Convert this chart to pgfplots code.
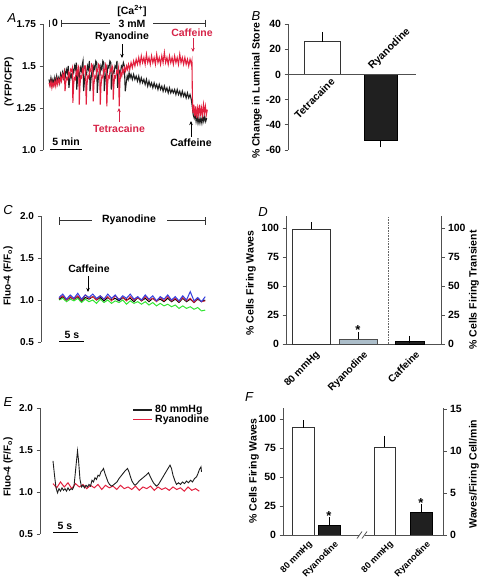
\documentclass[border=0pt]{standalone}
\usepackage{fontspec}
\setmainfont{Liberation Sans}
\usepackage{pgfplots}
\pgfplotsset{compat=1.18}
\usetikzlibrary{arrows.meta}
\definecolor{trred}{RGB}{226,32,62}
\definecolor{txred}{RGB}{214,36,72}
\definecolor{trblack}{RGB}{30,30,30}
\definecolor{cblue}{RGB}{52,62,222}
\definecolor{cgreen}{RGB}{50,228,50}
\definecolor{cred}{RGB}{214,40,62}
\definecolor{barblue}{RGB}{172,190,202}
\definecolor{bardark}{RGB}{32,32,32}
\definecolor{axcol}{RGB}{80,80,80}
\newcommand{\fa}{\bfseries\fontsize{10.5}{12}\selectfont}
\newcommand{\fb}{\bfseries\fontsize{10}{12}\selectfont}
\newcommand{\fc}{\bfseries\fontsize{9}{11}\selectfont}
\newcommand{\fp}{\itshape\fontsize{13}{14}\selectfont}
\pgfplotsset{
  panel/.style={scale only axis, clip=false,
    axis line style={axcol, line width=0.75pt},
    tick style={axcol, line width=0.75pt},
    major tick length=3.5pt,
    /pgf/number format/assume math mode=true,
    ticklabel style={font=\fb},
  },
  bars/.style={ybar, bar shift=0pt, error bars/y explicit,
    error bars/error bar style={black, line width=0.6pt},
    error bars/error mark options={black, line width=0.6pt, mark size=3.5pt}},
}
\begin{document}
\begin{tikzpicture}
\useasboundingbox (0,0) rectangle (480pt,-581pt);

%================ A
\begin{axis}[panel, at={(43pt,-150pt)}, anchor=south west, width=172pt, height=126pt,
  xmin=-0.94, xmax=25.9, ymin=1, ymax=1.75, axis x line=none, axis y line*=left, tick align=outside,
  ytick={1,1.25,1.5,1.75}, yticklabels={1.0,1.25,1.5,1.75}]
\addplot[trblack, line width=1.1pt] coordinates {
(0.0,1.42)(0.15,1.39)(0.3,1.43)(0.45,1.40)(0.6,1.42)(0.75,1.39)(0.9,1.43)(1.05,1.40)(1.2,1.44)(1.35,1.41)
(1.5,1.43)(1.65,1.40)(1.8,1.45)(1.95,1.42)(2.1,1.46)(2.25,1.43)(2.4,1.47)(2.55,1.44)(2.7,1.48)(2.85,1.46)
(3.0,1.50)(3.1,1.37)(3.25,1.42)(3.4,1.45)(3.55,1.43)(3.7,1.48)(3.85,1.46)(4.0,1.50)(4.15,1.48)(4.25,1.52)
(4.32,1.36)(4.45,1.42)(4.6,1.46)(4.75,1.44)(4.9,1.49)(5.05,1.47)(5.2,1.51)(5.3,1.53)(5.4,1.35)(5.55,1.42)
(5.7,1.46)(5.85,1.45)(6.0,1.50)(6.15,1.48)(6.3,1.53)(6.4,1.35)(6.55,1.42)(6.7,1.47)(6.85,1.45)(7.0,1.50)
(7.15,1.48)(7.3,1.53)(7.45,1.52)(7.52,1.34)(7.65,1.41)(7.8,1.46)(7.95,1.45)(8.1,1.50)(8.25,1.48)(8.4,1.53)
(8.55,1.52)(8.62,1.35)(8.75,1.42)(8.9,1.46)(9.05,1.45)(9.2,1.50)(9.35,1.49)(9.5,1.53)(9.65,1.52)(9.72,1.36)
(9.85,1.43)(10.0,1.47)(10.15,1.46)(10.3,1.50)(10.45,1.49)(10.6,1.53)(10.7,1.37)(10.85,1.43)(11.0,1.47)(11.15,1.46)
(11.3,1.50)(11.45,1.49)(11.6,1.52)(11.75,1.50)(11.9,1.35)(12.05,1.40)(12.2,1.44)(12.35,1.42)(12.5,1.46)(12.65,1.43)
(12.8,1.45)(13.0,1.42)(13.2,1.45)(13.4,1.42)(13.6,1.44)(13.8,1.41)(14.0,1.44)(14.2,1.40)(14.4,1.43)(14.6,1.40)
(14.8,1.42)(15.0,1.39)(15.2,1.42)(15.4,1.38)(15.6,1.41)(15.8,1.38)(16.0,1.40)(16.2,1.37)(16.4,1.40)(16.6,1.37)
(16.8,1.39)(17.0,1.36)(17.2,1.39)(17.4,1.36)(17.6,1.38)(17.8,1.35)(18.0,1.38)(18.2,1.35)(18.4,1.37)(18.6,1.34)
(18.8,1.37)(19.0,1.34)(19.2,1.36)(19.4,1.34)(19.6,1.36)(19.8,1.33)(20.0,1.36)(20.2,1.33)(20.4,1.35)(20.6,1.32)
(20.8,1.35)(21.0,1.32)(21.2,1.34)(21.4,1.31)(21.6,1.34)(21.8,1.31)(22.0,1.33)(22.2,1.30)(22.35,1.26)(22.5,1.21)
(22.65,1.19)(22.8,1.22)(22.95,1.17)(23.1,1.20)(23.25,1.16)(23.4,1.19)(23.55,1.16)(23.7,1.19)(23.85,1.16)(24.0,1.20)
(24.15,1.17)(24.3,1.20)(24.45,1.17)(24.6,1.19)};
\addplot[trred, line width=1.1pt] coordinates {
(0.0,1.40)(0.15,1.38)(0.3,1.41)(0.45,1.37)(0.6,1.40)(0.75,1.38)(0.9,1.41)(1.05,1.38)(1.2,1.42)(1.35,1.39)
(1.5,1.42)(1.65,1.40)(1.8,1.43)(1.95,1.41)(2.1,1.45)(2.25,1.43)(2.4,1.46)(2.5,1.35)(2.6,1.40)(2.75,1.43)
(2.9,1.42)(3.05,1.46)(3.2,1.44)(3.35,1.48)(3.5,1.47)(3.65,1.49)(3.72,1.28)(3.82,1.38)(3.95,1.43)(4.1,1.42)
(4.25,1.47)(4.4,1.45)(4.55,1.50)(4.65,1.49)(4.72,1.27)(4.82,1.38)(4.95,1.44)(5.1,1.43)(5.25,1.48)(5.4,1.46)
(5.55,1.50)(5.7,1.50)(5.8,1.27)(5.9,1.38)(6.05,1.44)(6.2,1.43)(6.35,1.48)(6.5,1.47)(6.65,1.51)(6.8,1.50)
(6.9,1.29)(7.0,1.39)(7.15,1.44)(7.3,1.43)(7.45,1.48)(7.6,1.47)(7.75,1.51)(7.9,1.50)(8.0,1.27)(8.1,1.38)
(8.25,1.44)(8.4,1.43)(8.55,1.48)(8.7,1.47)(8.85,1.51)(8.95,1.50)(9.02,1.26)(9.12,1.38)(9.25,1.44)(9.4,1.43)
(9.55,1.48)(9.7,1.47)(9.85,1.50)(9.95,1.49)(10.02,1.30)(10.12,1.39)(10.25,1.44)(10.4,1.43)(10.55,1.47)(10.7,1.46)
(10.85,1.49)(10.95,1.26)(11.05,1.40)(11.2,1.46)(11.35,1.44)(11.5,1.48)(11.65,1.46)(11.8,1.49)(11.95,1.47)(12.1,1.50)
(12.25,1.48)(12.4,1.51)(12.6,1.48)(12.8,1.52)(13.0,1.49)(13.2,1.53)(13.4,1.50)(13.6,1.54)(13.8,1.51)(14.0,1.55)
(14.2,1.51)(14.4,1.56)(14.6,1.52)(14.8,1.55)(15.0,1.51)(15.2,1.57)(15.4,1.52)(15.6,1.55)(15.8,1.51)(16.0,1.56)
(16.2,1.52)(16.4,1.55)(16.6,1.51)(16.8,1.57)(17.0,1.52)(17.2,1.55)(17.4,1.51)(17.6,1.56)(17.8,1.52)(18.0,1.58)
(18.2,1.52)(18.4,1.55)(18.6,1.51)(18.8,1.56)(19.0,1.52)(19.2,1.55)(19.4,1.51)(19.6,1.56)(19.8,1.52)(20.0,1.55)
(20.2,1.51)(20.4,1.57)(20.6,1.52)(20.8,1.55)(21.0,1.51)(21.2,1.55)(21.4,1.51)(21.6,1.54)(21.8,1.50)(22.0,1.54)
(22.2,1.51)(22.3,1.53)(22.38,1.30)(22.45,1.22)(22.6,1.27)(22.75,1.20)(22.9,1.26)(23.05,1.19)(23.2,1.25)(23.35,1.21)
(23.5,1.27)(23.65,1.20)(23.8,1.25)(23.95,1.21)(24.1,1.27)(24.25,1.22)(24.4,1.26)(24.55,1.21)(24.7,1.24)};
\end{axis}

%================ B
\begin{axis}[panel, bars, at={(288pt,-150pt)}, anchor=south west, width=128pt, height=126pt,
  xmin=0, xmax=128, ymin=-60, ymax=40, axis x line=none, axis y line*=left, tick align=outside,
  ytick={-60,-40,-20,0,20,40}, ticklabel style={font=\fa}]
\addplot[fill=white, draw=black!80, line width=0.6pt, bar width=36, error bars/y dir=plus] coordinates {(34,26) +- (0,5)};
\addplot[fill=bardark, draw=black, line width=0.6pt, bar width=33, error bars/y dir=minus] coordinates {(92.5,-52.1) +- (0,3.1)};
\draw[axcol, line width=0.75pt] (axis cs:0,0) -- (axis cs:128,0);
\node[font=\fa, rotate=45, anchor=north east, inner sep=1pt] at (axis cs:42,-1) {Tetracaine};
\node[font=\fa, rotate=45, anchor=south west, inner sep=1pt] at (axis cs:86,1) {Ryanodine};
\end{axis}

%================ C
\begin{axis}[panel, at={(41pt,-342pt)}, anchor=south west, width=174pt, height=126pt,
  xmin=-3.6, xmax=31.2, ymin=0.5, ymax=2.0, axis x line=none, axis y line*=left, tick align=outside,
  ytick={0.5,1,1.5,2}, yticklabels={0.5,1.0,1.5,2.0}]
\addplot[cgreen, line width=1pt] coordinates {
(0,1.00)(0.75,1.02)(1.5,0.98)(2.25,1.01)(3,0.99)(3.75,1.02)(4.5,0.97)(5.25,1.01)(6,0.98)(6.75,1.00)
(7.5,0.96)(8.25,1.01)(9,0.97)(9.75,1.00)(10.5,0.96)(11.25,0.99)(12,0.97)(12.75,1.00)(13.5,0.95)(14.25,0.99)
(15,0.96)(15.75,0.98)(16.5,0.95)(17.25,0.98)(18,0.94)(18.75,0.97)(19.5,0.93)(20.25,0.96)(21,0.93)(21.75,0.95)
(22.5,0.92)(23.25,0.94)(24,0.90)(24.75,0.93)(25.5,0.90)(26.25,0.92)(27,0.89)(27.75,0.91)(28.5,0.87)(29.25,0.88)};
\addplot[black, line width=1pt] coordinates {
(0,1.01)(0.75,1.04)(1.5,1.00)(2.25,1.03)(3,1.01)(3.75,1.04)(4.5,0.99)(5.25,1.03)(6,1.01)(6.75,1.04)
(7.5,1.00)(8.25,1.03)(9,0.99)(9.75,1.03)(10.5,1.00)(11.25,1.02)(12,0.99)(12.75,1.03)(13.5,1.00)(14.25,1.02)
(15,0.98)(15.75,1.03)(16.5,0.99)(17.25,1.02)(18,0.98)(18.75,1.02)(19.5,0.99)(20.25,1.01)(21,0.98)(21.75,1.02)
(22.5,0.98)(23.25,1.01)(24,0.97)(24.75,1.02)(25.5,0.98)(26.25,1.01)(27,0.97)(27.75,1.01)(28.5,0.98)(29.25,1.00)};
\addplot[cred, line width=1pt] coordinates {
(0,1.02)(0.75,1.05)(1.5,1.00)(2.25,1.04)(3,1.01)(3.75,1.05)(4.5,1.00)(5.25,1.06)(6,1.02)(6.75,1.04)
(7.5,1.00)(8.25,1.05)(9,1.01)(9.75,1.04)(10.5,0.99)(11.25,1.05)(12,1.01)(12.75,1.03)(13.5,0.99)(14.25,1.04)
(15,1.00)(15.75,1.03)(16.5,0.99)(17.25,1.04)(18,1.00)(18.75,1.02)(19.5,0.98)(20.25,1.03)(21,0.99)(21.75,1.04)
(22.5,0.99)(23.25,1.02)(24,0.98)(24.75,1.03)(25.5,0.99)(26.25,1.02)(27,0.97)(27.75,1.02)(28.5,0.98)(29.25,0.99)};
\addplot[cblue, line width=1pt] coordinates {
(0,1.03)(0.75,1.07)(1.5,1.01)(2.25,1.06)(3,1.02)(3.75,1.08)(4.5,1.01)(5.25,1.06)(6,1.03)(6.75,1.07)
(7.5,1.02)(8.25,1.05)(9,1.01)(9.75,1.07)(10.5,1.02)(11.25,1.06)(12,1.00)(12.75,1.05)(13.5,1.02)(14.25,1.07)
(15,1.01)(15.75,1.04)(16.5,1.00)(17.25,1.06)(18,1.01)(18.75,1.05)(19.5,0.99)(20.25,1.04)(21,1.01)(21.75,1.06)
(22.5,1.00)(23.25,1.04)(24,0.99)(24.75,1.05)(25.5,1.00)(26.25,1.10)(27,0.99)(27.75,1.03)(28.5,0.98)(29.25,1.04)};
\end{axis}

%================ D
\begin{axis}[panel, bars, at={(286pt,-344pt)}, anchor=south west, width=155pt, height=127.6pt,
  xmin=0, xmax=155, ymin=0, ymax=110, axis x line*=bottom, axis y line*=left, tick align=outside,
  ytick={0,25,50,75,100}, ticklabel style={font=\fa},
  xtick={29,77,129}, xticklabels={80 mmHg,Ryanodine,Caffeine}, xtick style={draw=none},
  xticklabel style={yshift=-1pt, rotate=45, anchor=north east, inner sep=1pt, font=\fb}]
\addplot[fill=white, draw=black!80, line width=0.6pt, bar width=38, error bars/y dir=plus] coordinates {(25,98.9) +- (0,3.1)};
\addplot[fill=barblue, draw=black!70, line width=0.6pt, bar width=38, error bars/y dir=plus] coordinates {(72,4.0) +- (0,3.2)};
\addplot[fill=bardark, draw=black, line width=0.6pt, bar width=29, error bars/y dir=plus] coordinates {(123.5,2.0) +- (0,2.0)};
\draw[densely dotted, black!60, line width=0.6pt] (axis cs:102,0) -- (axis cs:102,110);
\node[font=\bfseries\fontsize{13}{13}\selectfont, anchor=base] at (axis cs:72,8.5) {*};
\end{axis}
\begin{axis}[panel, at={(286pt,-344pt)}, anchor=south west, width=155pt, height=127.6pt,
  xmin=0, xmax=155, ymin=0, ymax=110, axis x line=none, axis y line*=right, tick align=outside,
  ytick={0,25,50,75,100}, ticklabel style={font=\fa}]
\end{axis}

%================ E
\begin{axis}[panel, at={(40pt,-534pt)}, anchor=south west, width=174pt, height=126pt,
  xmin=-2.6, xmax=32.2, ymin=0.5, ymax=2.0, axis x line=none, axis y line*=left, tick align=outside,
  ytick={0.5,1,1.5,2}, yticklabels={0.5,1.0,1.5,2.0}]
\addplot[trred, line width=1pt] coordinates {
(0,1.10)(0.75,1.05)(1.5,1.12)(2.25,1.06)(3,1.11)(3.75,1.04)(4.5,1.10)(5.25,1.06)(6,1.09)(6.75,1.04)
(7.5,1.08)(8.25,1.05)(9,1.09)(9.75,1.03)(10.5,1.08)(11.25,1.05)(12,1.07)(12.75,1.03)(13.5,1.08)(14.25,1.04)
(15,1.06)(15.75,1.03)(16.5,1.07)(17.25,1.02)(18,1.06)(18.75,1.04)(19.5,1.07)(20.25,1.02)(21,1.06)(21.75,1.03)
(22.5,1.05)(23.25,1.02)(24,1.06)(24.75,1.03)(25.5,1.05)(26.25,1.01)(27,1.06)(27.75,1.02)(28.5,1.04)(29.25,1.01)};
\addplot[trblack, line width=0.9pt] coordinates {
(0.0,1.37)(0.3,1.20)(0.6,1.05)(0.9,0.99)(1.2,1.04)(1.5,1.01)(1.8,1.05)(2.1,1.02)(2.4,1.04)(2.7,1.01)
(3.0,1.05)(3.3,1.02)(3.6,1.04)(3.9,1.03)(4.2,1.07)(4.5,1.25)(4.9,1.49)(5.1,1.38)(5.4,1.15)(5.7,1.06)
(6.0,1.08)(6.3,1.05)(6.6,1.08)(6.9,1.06)(7.2,1.09)(7.5,1.07)(7.8,1.14)(8.1,1.12)(8.4,1.17)(8.7,1.15)
(9.0,1.20)(9.3,1.19)(9.6,1.24)(9.9,1.26)(10.1,1.28)(10.4,1.22)(10.7,1.17)(11.0,1.12)(11.3,1.09)(11.7,1.07)
(12.0,1.08)(12.4,1.10)(12.8,1.12)(13.2,1.16)(13.6,1.19)(14.0,1.22)(14.4,1.25)(14.9,1.28)(15.2,1.24)(15.5,1.18)
(15.8,1.13)(16.1,1.10)(16.4,1.08)(16.8,1.10)(17.2,1.13)(17.6,1.15)(18.0,1.17)(18.4,1.19)(18.8,1.21)(19.1,1.23)
(19.4,1.19)(19.8,1.14)(20.2,1.10)(20.7,1.07)(21.1,1.09)(21.5,1.13)(21.9,1.17)(22.3,1.21)(22.7,1.25)(23.1,1.29)
(23.4,1.32)(23.7,1.28)(24.0,1.20)(24.4,1.13)(24.7,1.09)(25.1,1.11)(25.5,1.09)(25.9,1.12)(26.3,1.10)(26.7,1.13)
(27.1,1.11)(27.5,1.14)(27.9,1.12)(28.3,1.16)(28.7,1.18)(29.0,1.22)(29.3,1.27)(29.6,1.30)(29.7,1.24)};
\end{axis}

%================ F
\begin{axis}[panel, bars, at={(283pt,-535pt)}, anchor=south west, width=160pt, height=127pt,
  xmin=0, xmax=160, ymin=0, ymax=109.5, axis x line*=bottom, axis y line*=left, tick align=outside,
  x axis line style={draw=none},
  ytick={0,25,50,75,100}, ticklabel style={font=\fa},
  xtick={25,51,106,143}, xticklabels={80 mmHg,Ryanodine,80 mmHg,Ryanodine}, xtick style={draw=none},
  xticklabel style={rotate=45, anchor=north east, inner sep=1pt, font=\fc}]
\addplot[fill=white, draw=black!80, line width=0.6pt, bar width=22, error bars/y dir=plus] coordinates {(20,92.5) +- (0,3.4)};
\addplot[fill=bardark, draw=black, line width=0.6pt, bar width=22, error bars/y dir=plus] coordinates {(46,8.6) +- (0,3.5)};
\node[font=\bfseries\fontsize{13}{13}\selectfont, anchor=base] at (axis cs:46,12.3) {*};
\end{axis}
\begin{axis}[panel, bars, at={(283pt,-535pt)}, anchor=south west, width=160pt, height=127pt,
  xmin=0, xmax=160, ymin=0, ymax=15.12, axis x line=none, axis y line*=right, tick align=outside,
  ytick={0,5,10,15}, ticklabel style={font=\fa}]
\addplot[fill=white, draw=black!80, line width=0.6pt, bar width=21, error bars/y dir=plus] coordinates {(101.5,10.5) +- (0,0.9)};
\addplot[fill=bardark, draw=black, line width=0.6pt, bar width=22, error bars/y dir=plus] coordinates {(138,2.7) +- (0,0.6)};
\node[font=\bfseries\fontsize{13}{13}\selectfont, anchor=base] at (axis cs:138,3.3) {*};
\end{axis}

%================ annotations (picture units = pixels of the reference)
\begin{scope}[x=1pt, y=-1pt]
% panel letters
\node[font=\fp] at (12,18) {A};
\node[font=\fp] at (256,16) {B};
\node[font=\fp] at (8,210) {C};
\node[font=\fp] at (263,212) {D};
\node[font=\fp] at (8,402) {E};
\node[font=\fp] at (249,397) {F};
% axis labels
\node[font=\fb, rotate=90] at (9,82) {(YFP/CFP)};
\node[font=\fa, rotate=90] at (257,91) {\% Change in Luminal Store};
\node[font=\fb, rotate=90] at (8,276) {Fluo-4 (F/F\textsubscript{o})};
\node[font=\fa, rotate=90] at (251,283) {\% Cells Firing Waves};
\node[font=\fa, rotate=90] at (474,290) {\% Cells Firing Transient};
\node[font=\fb, rotate=90] at (8,467) {Fluo-4 (F/F\textsubscript{o})};
\node[font=\fa, rotate=90] at (254,471) {\% Cells Firing Waves};
\node[font=\fa, rotate=90] at (474,474) {Waves/Firing Cell/min};
% A annotations
\node[font=\fa] at (132,11) {[Ca\textsuperscript{2+}]};
\node[font=\fa] at (132,24) {3 mM};
\node[font=\fa] at (55,23) {0};
\draw[black!80, line width=0.7pt] (49,19.5) -- (49,27) (61,19.5) -- (61,27) (205,19.5) -- (205,27)
  (61,23.5) -- (110,23.5) (153,23.5) -- (205,23.5);
\node[font=\fa] at (122,37) {Ryanodine};
\draw[-{Stealth[length=4pt,width=3.5pt]}, line width=0.8pt] (122,44) -- (122,58);
\node[font=\fa, text=txred] at (192,33) {Caffeine};
\draw[txred, -{Stealth[length=4pt,width=3.5pt]}, line width=0.8pt] (193,38) -- (193,52);
\node[font=\fa, text=txred] at (119,129) {Tetracaine};
\draw[txred, -{Stealth[length=4pt,width=3.5pt]}, line width=0.8pt] (119,122) -- (119,108);
\node[font=\fa] at (191,143) {Caffeine};
\draw[-{Stealth[length=4pt,width=3.5pt]}, line width=0.8pt] (191,137) -- (191,121);
\draw[line width=0.8pt] (50,149.5) -- (82,149.5);
\node[font=\fa] at (66,142) {5 min};
% C annotations
\draw[black!80, line width=0.7pt] (59,217) -- (59,224.5) (205,217) -- (205,224.5)
  (59,220.8) -- (92,220.8) (167,220.8) -- (205,220.8);
\node[font=\fa] at (129,220) {Ryanodine};
\node[font=\fa] at (89,269) {Caffeine};
\draw[-{Stealth[length=4pt,width=3.5pt]}, line width=0.8pt] (88,276) -- (88,292);
\draw[line width=0.8pt] (59,341.7) -- (84,341.7);
\node[font=\fa] at (72,335) {5 s};
% E annotations
\draw[trblack, line width=1.2pt] (133,410) -- (152,410);
\node[font=\fa, anchor=west, inner sep=0pt] at (155,410) {80 mmHg};
\draw[trred, line width=1.4pt] (133,419.5) -- (152,419.5);
\node[font=\fa, anchor=west, inner sep=0pt] at (155,419.5) {Ryanodine};
\draw[line width=0.8pt] (53,532.7) -- (78,532.7);
\node[font=\fa] at (65,526) {5 s};
% F axis line with break
\draw[axcol, line width=0.75pt] (283,535) -- (359,535) (365,535) -- (443,535);
\draw[axcol, line width=0.75pt] (357,538.5) -- (362,531.5) (362,538.5) -- (367,531.5);
\end{scope}
\end{tikzpicture}
\end{document}
